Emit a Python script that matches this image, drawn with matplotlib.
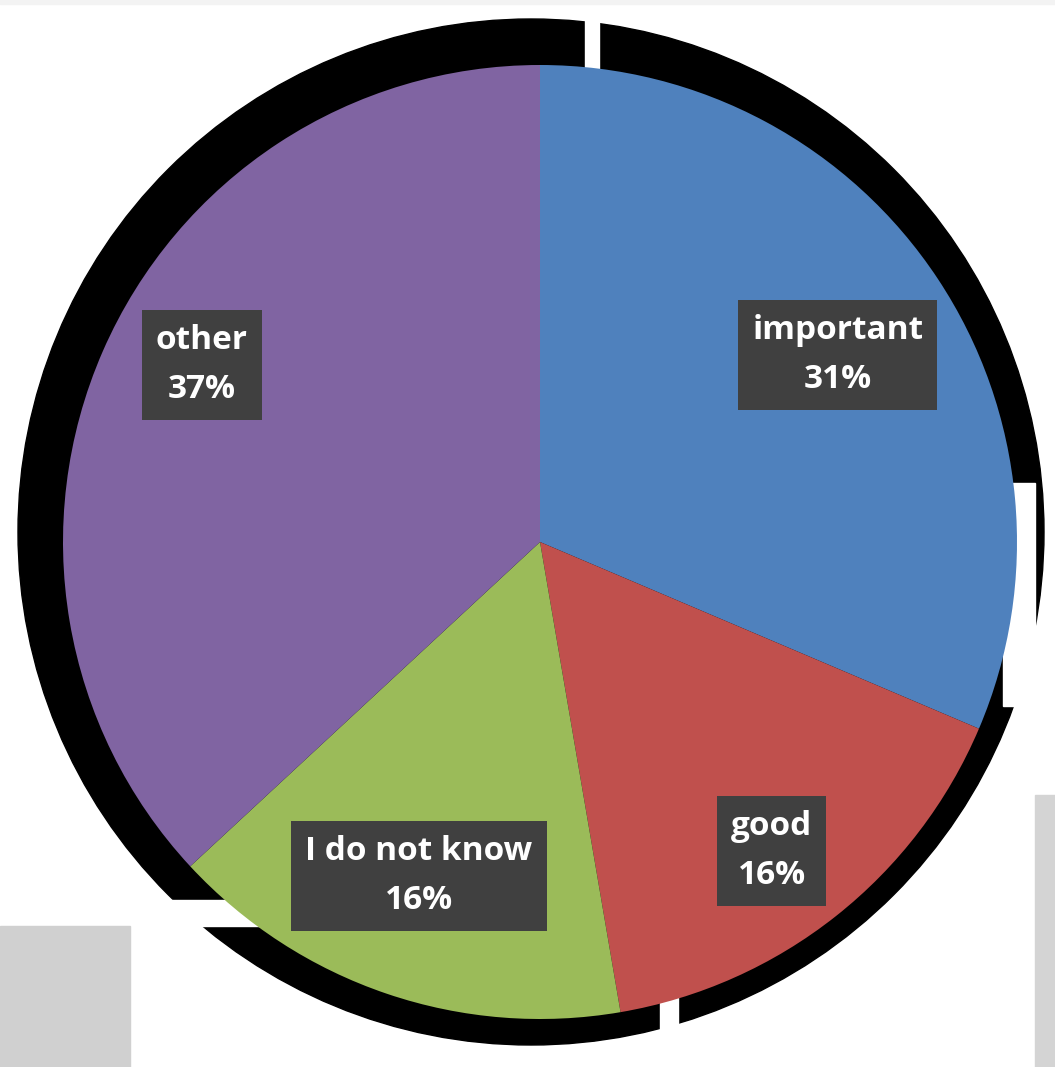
import matplotlib.pyplot as plt
import matplotlib.patches as mpatches
import numpy as np

# --- data ---
categories = ['important', 'good', 'I do not know', 'other']
shares = [31.4, 15.9, 15.8, 36.9]
pct_labels = ['31%', '16%', '16%', '37%']
colors = ['#4F81BD', '#C0504D', '#9BBB59', '#8064A2']

W, H = 1055, 1067
fig = plt.figure(figsize=(W / 100, H / 100), dpi=100)
ax = fig.add_axes([0, 0, 1, 1])
ax.set_xlim(0, W)
ax.set_ylim(0, H)
ax.set_aspect('equal')
ax.axis('off')

def py(y):  # pixel row -> data y
    return H - y

# --- dark backdrop (the broken shadow around the pie) ---
ax.add_patch(mpatches.Circle((531, py(532)), 513, color='black', zorder=0))
# gaps in the shadow
for x0, y0, x1, y1 in [(585, 0, 599, 80), (1003, 483, 1035, 706),
                       (0, 900, 300, 926), (660, 985, 678, 1067),
                       (1035, 630, 1055, 800)]:
    ax.add_patch(mpatches.Rectangle((x0, py(y1)), x1 - x0, y1 - y0,
                                    color='white', zorder=1))
# grey blocks in the corners
ax.add_patch(mpatches.Rectangle((0, py(1067)), 130, 1067 - 926, color='#d0d0d0', zorder=1))
ax.add_patch(mpatches.Rectangle((1035, py(1067)), 20, 1067 - 795, color='#d4d4d4', zorder=1))
ax.add_patch(mpatches.Rectangle((0, py(4)), W, 4, color='#f3f3f3', zorder=1))

# --- pie ---
cx, cy, R = 540, py(542), 477
wedges, _ = ax.pie(shares, colors=colors, startangle=90, counterclock=False,
                   center=(cx, cy), radius=R, frame=True,
                   wedgeprops=dict(linewidth=0, zorder=2))
ax.set_xlim(0, W)
ax.set_ylim(0, H)
ax.axis('off')

# label placement (fraction of radius, angle nudge in degrees)
dist = [0.737, 0.81, 0.745, 0.80]
nudge = [-1.4, -1.5, -1.2, -4]
for w, cat, pct, d, n in zip(wedges, categories, pct_labels, dist, nudge):
    ang = np.deg2rad((w.theta1 + w.theta2) / 2 + n)
    x = cx + d * R * np.cos(ang)
    y = cy + d * R * np.sin(ang)
    ax.text(x, y, f"{cat}\n{pct}", ha='center', va='center', color='white',
            fontsize=24, fontweight='bold', family=['Open Sans', 'DejaVu Sans'],
            linespacing=1.65, zorder=5,
            bbox=dict(boxstyle='square,pad=0.42', fc='#404040', ec='none'))

fig.savefig('out.png', dpi=100, facecolor='white')
